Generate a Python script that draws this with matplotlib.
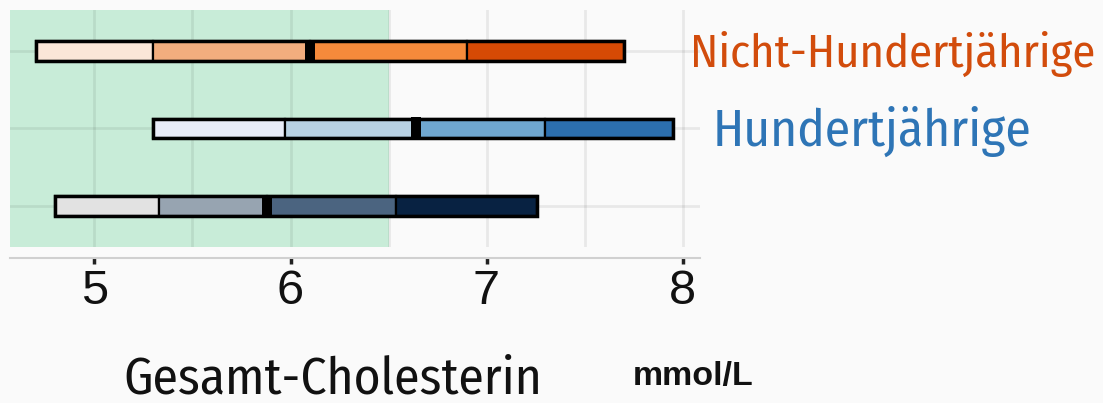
import matplotlib
matplotlib.use("Agg")
import matplotlib.pyplot as plt
from matplotlib.patches import Rectangle

# quantile breaks (min, q1, median, q3, max) per group, mmol/L
groups = ["Nicht-Hundertjährige", "Hundertjährige", "Referenz"]
q_nicht = [4.70, 5.30, 6.10, 6.90, 7.70]
q_hundert = [5.30, 5.97, 6.64, 7.30, 7.95]
q_ref = [4.80, 5.33, 5.88, 6.54, 7.26]
ref_limit = 6.5
x_ticks = [5, 6, 7, 8]

# palettes, light -> dark
col_nicht = ["#fbe6d8", "#f2ad7e", "#f58a3b", "#d64a05"]
col_hundert = ["#e8ecf8", "#b8d1e3", "#6fa7d0", "#2c6fae"]
col_ref = ["#e2e2e2", "#97a4b1", "#4b6480", "#082242"]

BG = "#fafafa"
GREEN = "#c8ecd8"
ORANGE = "#d24c0c"
BLUE = "#2e75b6"

COND = dict(family=["Fira Sans Condensed", "Open Sans", "DejaVu Sans"])

fig = plt.figure(figsize=(11.03, 4.03), dpi=100)
fig.patch.set_facecolor(BG)
ax = fig.add_axes([10 / 1103, 1 - 247 / 403, 690 / 1103, 237 / 403])
ax.set_facecolor(BG)
ax.set_xlim(4.569, 8.089)
ax.set_ylim(0.47, 3.53)

ax.axvspan(ax.get_xlim()[0], ref_limit, color=GREEN, zorder=0, lw=0)

# grid (semi-transparent so it reads darker on the green band)
for xv in [5, 5.5, 6, 6.5, 7, 7.5, 8]:
    ax.axvline(xv, color="black", alpha=0.07, lw=2.0, zorder=0.5)
rows = [3, 2, 1]
for yv in rows:
    ax.axhline(yv, color="black", alpha=0.07, lw=2.0, zorder=0.5)

h = 0.25
for y, q, cols in zip(rows, [q_nicht, q_hundert, q_ref],
                      [col_nicht, col_hundert, col_ref]):
    for i in range(4):
        ax.add_patch(Rectangle((q[i], y - h / 2), q[i + 1] - q[i], h,
                               facecolor=cols[i], edgecolor="black",
                               lw=1.6, zorder=2))
    ax.add_patch(Rectangle((q[0], y - h / 2), q[4] - q[0], h,
                           facecolor="none", edgecolor="black",
                           lw=2.5, zorder=3))
    # median marker
    ax.add_patch(Rectangle((q[2] - 0.025, y - h / 2 - 0.02), 0.05,
                           h + 0.04, facecolor="black", edgecolor="none",
                           zorder=4))

for s in ["top", "right", "left"]:
    ax.spines[s].set_visible(False)
ax.spines["bottom"].set_position(("outward", 8))
ax.spines["bottom"].set_color("#d0d0d0")
ax.spines["bottom"].set_linewidth(1.5)
ax.set_yticks([])
ax.set_xticks(x_ticks)
ax.set_xticklabels([str(t) for t in x_ticks])
ax.tick_params(axis="x", length=4, width=2.5, color="#222222", pad=4,
               labelsize=35)
for lab in ax.get_xticklabels():
    lab.set_family(["Liberation Sans", "DejaVu Sans"])
    lab.set_color("#111111")

# group labels
fig.text(690 / 1103, 1 - 67 / 403, groups[0], color=ORANGE, fontsize=33.5,
         va="baseline", ha="left", **COND)
fig.text(713 / 1103, 1 - 146 / 403, groups[1], color=BLUE, fontsize=37,
         va="baseline", ha="left", **COND)

fig.text(123 / 1103, 1 - 394 / 403, "Gesamt-Cholesterin", color="#111111",
         fontsize=37, va="baseline", ha="left", **COND)
fig.text(633 / 1103, 1 - 385 / 403, "mmol/L", color="#111111", fontsize=24.5,
         family=["Liberation Sans", "DejaVu Sans"], fontweight="bold",
         va="baseline", ha="left")

fig.savefig("out.png", dpi=100, facecolor=BG)
